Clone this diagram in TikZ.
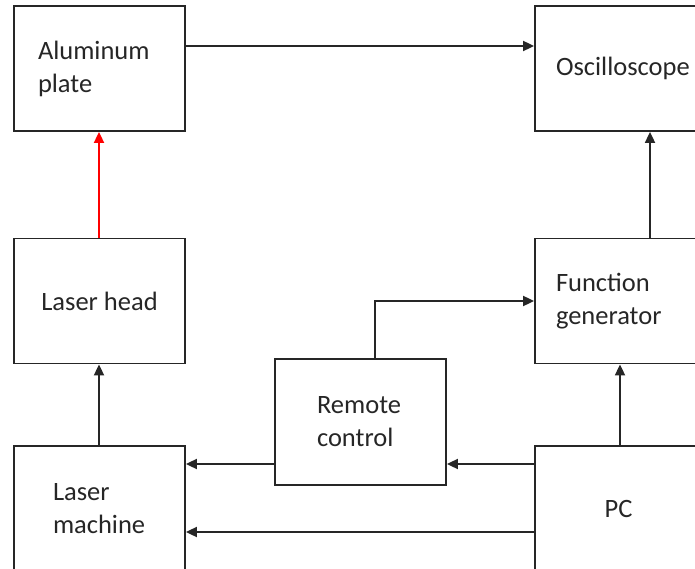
\documentclass[tikz,border=0pt]{standalone}
\usepackage{fontspec}
\setmainfont{Carlito}
\usetikzlibrary{arrows.meta}

\begin{document}
\begin{tikzpicture}[x=1pt,y=-1pt,
  box/.style={draw=black!85,line width=1.8pt,align=left,text=black!85,
    minimum width=171pt,minimum height=125pt,
    font=\fontsize{26.5}{33}\selectfont},
  rbox/.style={box,minimum width=167pt},
  arr/.style={draw=black!85,line width=1.8pt,-{Triangle[length=11pt,width=10pt]}}]

  % 页面大小就是参考图的大小,右边和下边的框被切掉
  \useasboundingbox (0,0) rectangle (695,569);
  \clip (0,0) rectangle (695,569);

  % 左边一列
  \node[box,text width=123pt] (alu) at (99.5,68.5) {Aluminum\\plate};
  \node[box,align=center] (head) at (99.5,301) {Laser head};
  \node[box,text width=93pt] (machine) at (99.5,508.5) {Laser\\machine};

  % 中间的遥控器
  \node[box,minimum height=126pt,text width=87pt] (remote) at (360.5,422) {Remote\\control};

  % 右边一列
  \node[rbox,text width=125pt] (osc) at (618.5,68.5) {Oscilloscope};
  \node[rbox,text width=125pt] (fgen) at (618.5,301) {Function\\generator};
  \node[rbox,align=center] (pc) at (618.5,508.5) {PC};

  % 上面一条横线
  \draw[arr] ([yshift=22.5pt]alu.east) coordinate (a1) -- (a1 -| osc.west);

  % 激光头 -> 铝板 是红色的
  \draw[arr,draw=red,fill=red] ([xshift=-0.5pt]head.north) -- ([xshift=-0.5pt]alu.south);
  \draw[arr] ([xshift=-0.5pt]machine.north) -- ([xshift=-0.5pt]head.south);

  % 右边竖线
  \draw[arr] ([xshift=31.5pt]fgen.north) coordinate (f1) -- (f1 |- osc.south);
  \draw[arr] ([xshift=1.5pt]pc.north) coordinate (p0) -- (p0 |- fgen.south);

  % 遥控器 -> 函数发生器,先上后右
  \draw[arr] ([xshift=14.5pt]remote.north) |- (fgen.west);

  % PC 出来的两条线和遥控器到激光机的线
  \draw[arr] ([yshift=44.5pt]pc.west) coordinate (p1) -- (p1 -| remote.east);
  \draw[arr] (p1 -| remote.west) -- (p1 -| machine.east);
  \draw[arr] ([yshift=-23.5pt]pc.west) coordinate (p2) -- (p2 -| machine.east);

\end{tikzpicture}
\end{document}
